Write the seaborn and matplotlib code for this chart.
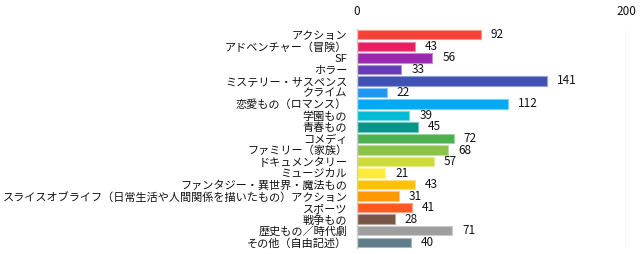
import matplotlib
matplotlib.use("Agg")
import matplotlib.pyplot as plt
import matplotlib.colors as mcolors
import seaborn as sns
import pandas as pd

categories = [
    "アクション", "アドベンチャー（冒険）", "SF", "ホラー", "ミステリー・サスペンス",
    "クライム", "恋愛もの（ロマンス）", "学園もの", "青春もの", "コメディ",
    "ファミリー（家族）", "ドキュメンタリー", "ミュージカル", "ファンタジー・異世界・魔法もの",
    "スライスオブライフ（日常生活や人間関係を描いたもの）アクション", "スポーツ", "戦争もの",
    "歴史もの／時代劇", "その他（自由記述）",
]
values = [92, 43, 56, 33, 141, 22, 112, 39, 45, 72, 68, 57, 21, 43, 31, 41, 28, 71, 40]
colors = [
    "#F44336", "#E91E63", "#9C27B0", "#673AB7", "#3F51B5", "#2196F3", "#03A9F4",
    "#00BCD4", "#009688", "#4CAF50", "#8BC34A", "#CDDC39", "#FFEB3B", "#FFC107",
    "#FF9800", "#FF5722", "#795548", "#9E9E9E", "#607D8B",
]
x_ticks = [0, 200]

sns.set_theme(style="white")
plt.rcParams["font.family"] = ["Noto Sans CJK JP", "DejaVu Sans"]

df = pd.DataFrame({"cat": categories, "val": values})

fig = plt.figure(figsize=(6.44, 2.54), dpi=100)
ax = fig.add_axes([357 / 644, 1 - 248 / 254, (626 - 357) / 644, (248 - 29) / 254])

sns.barplot(data=df, y="cat", x="val", hue="cat", palette=colors, legend=False,
            orient="h", width=0.82, ax=ax, saturation=1)

for patch, c in zip(ax.patches, colors):
    rgb = mcolors.to_rgb(c)
    light = tuple(v + (1 - v) * 0.45 for v in rgb)
    patch.set_edgecolor(light)
    patch.set_linewidth(0.8)

for i, v in enumerate(values):
    ax.annotate(str(v), xy=(v, i), xytext=(7.2, 0), textcoords="offset points",
                va="center", ha="left", fontsize=8.5, color="#111111")

ax.set_xlim(0, 200)
ax.set_xticks(x_ticks)
ax.xaxis.tick_top()
ax.tick_params(axis="x", length=0, pad=8, labelsize=8.5, labelcolor="#111111")
ax.tick_params(axis="y", length=0, pad=7, labelsize=8, labelcolor="#111111")
ax.set_xlabel("")
ax.set_ylabel("")
for s in ["top", "right", "bottom"]:
    ax.spines[s].set_visible(False)
ax.spines["left"].set_color("#cccccc")
ax.spines["left"].set_linewidth(1)
ax.axvline(200, color="#dddddd", linewidth=1, zorder=0)
ax.grid(False)

fig.savefig("out.png", dpi=100)
